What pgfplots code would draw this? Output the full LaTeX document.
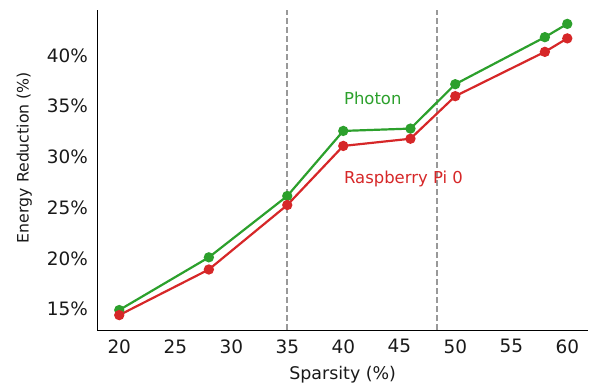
\documentclass[border=0pt]{standalone}
\usepackage{fontspec}
\setmainfont{DejaVu Sans}
\usepackage{pgfplots}
\pgfplotsset{compat=1.18}
\usetikzlibrary{calc}
\definecolor{pgreen}{HTML}{2CA02C}
\definecolor{pred}{HTML}{D62728}
\definecolor{dgray}{HTML}{999999}
\begin{document}
\begin{tikzpicture}
\begin{axis}[
  scale only axis,
  width=490.7bp, height=320bp,
  xmin=18.04, xmax=61.85,
  ymin=12.93, ymax=44.5,
  axis x line=bottom, axis y line=left,
  axis line style={-, black, line width=1bp},
  xtick={20,25,...,60},
  ytick={15,20,...,40},
  yticklabel={\pgfmathprintnumber{\tick}\%},
  major tick length=0pt,
  /pgf/number format/assume math mode=true,
  tick label style={font=\fontsize{18.5}{20}\selectfont, text=black!90},
  xticklabel style={yshift=-6bp},
  yticklabel style={xshift=-6bp},
  xlabel={Sparsity (\%)},
  ylabel={Energy Reduction (\%)},
  xlabel style={font=\fontsize{17.5}{19}\selectfont, text=black!90, at={(rel axis cs:0.5,0)}, anchor=center, yshift=-45bp},
  ylabel style={font=\fontsize{15.8}{18}\selectfont, text=black!90, at={(rel axis cs:0,0.539)}, anchor=center, yshift=73bp},
  clip=false,
]
\addplot[dgray, line width=1.8bp, dash pattern=on 6bp off 3bp] coordinates {(35,12.93) (35,44.5)};
\addplot[dgray, line width=1.8bp, dash pattern=on 6bp off 3bp] coordinates {(48.4,12.93) (48.4,44.5)};
\addplot[pgreen, line width=2.2bp, mark=*, mark size=4bp, mark options={solid}] coordinates {
(20,14.9) (28,20.1) (35,26.15) (40,32.57) (46,32.8) (50,37.18) (58,41.82) (60,43.13)};
\addplot[pred, line width=2.2bp, mark=*, mark size=4bp, mark options={solid}] coordinates {
(20,14.4) (28,18.9) (35,25.26) (40,31.09) (46,31.8) (50,36.0) (58,40.37) (60,41.7)};
\node[anchor=west, inner sep=0, text=pgreen, font=\fontsize{16.5}{18}\selectfont] at (axis cs:40.06,35.8) {Photon};
\node[anchor=west, inner sep=0, text=pred, font=\fontsize{16.5}{18}\selectfont] at (axis cs:40.06,27.8) {Raspberry Pi 0};
\coordinate (ll) at (rel axis cs:0,0);
\coordinate (ur) at (rel axis cs:1,1);
\end{axis}
\pgfresetboundingbox
\useasboundingbox ($(ll)+(-97.3bp,-55bp)$) rectangle ($(ur)+(1bp,10bp)$);
\end{tikzpicture}
\end{document}
